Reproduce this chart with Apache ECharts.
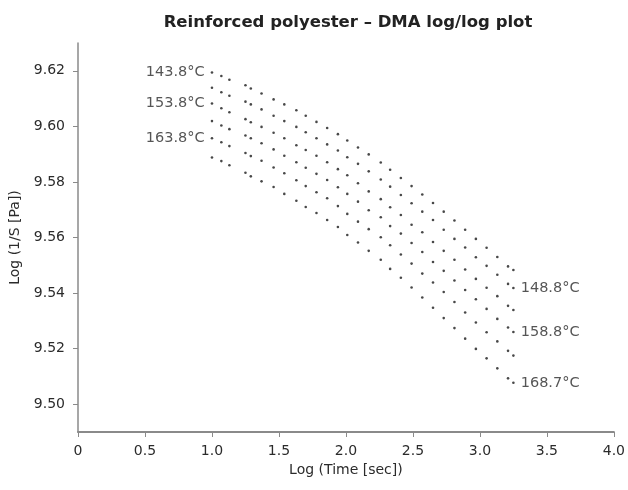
<!DOCTYPE html>
<html>
<head>
<meta charset="utf-8">
<script src="https://cdn.jsdelivr.net/npm/echarts@6/dist/echarts.min.js"></script>
<style>
  html, body { margin: 0; padding: 0; background: #fff; }
  #chart { width: 628px; height: 490px; }
</style>
</head>
<body>
<div id="chart"></div>
<script>
// log10 of time [sec], same for every temperature
const logTime = [1.00, 1.07, 1.13, 1.25, 1.29, 1.37, 1.46, 1.54, 1.63, 1.70,
  1.78, 1.86, 1.94, 2.01, 2.09, 2.17, 2.26, 2.33, 2.41, 2.49,
  2.57, 2.65, 2.73, 2.81, 2.89, 2.97, 3.05, 3.13, 3.21, 3.25];

const temps = ['143.8°C', '148.8°C', '153.8°C', '158.8°C', '163.8°C', '168.7°C'];

// log (1/S [Pa]) per temperature
const s1438 = [9.6194, 9.6181, 9.6168, 9.6148, 9.6136, 9.6118, 9.6097, 9.6079, 9.6058, 9.6038,
  9.6016, 9.5994, 9.5972, 9.5949, 9.5924, 9.5899, 9.5870, 9.5844, 9.5814, 9.5785,
  9.5755, 9.5724, 9.5693, 9.5661, 9.5628, 9.5595, 9.5563, 9.5530, 9.5496, 9.5483];
const s1488 = [9.6139, 9.6123, 9.6110, 9.6089, 9.6079, 9.6061, 9.6038, 9.6019, 9.5998, 9.5979,
  9.5957, 9.5935, 9.5913, 9.5889, 9.5865, 9.5838, 9.5809, 9.5783, 9.5753, 9.5723,
  9.5693, 9.5663, 9.5628, 9.5595, 9.5564, 9.5529, 9.5498, 9.5466, 9.5433, 9.5418];
const s1538 = [9.6082, 9.6065, 9.6051, 9.6026, 9.6015, 9.5998, 9.5977, 9.5957, 9.5932, 9.5915,
  9.5894, 9.5871, 9.5846, 9.5824, 9.5795, 9.5766, 9.5738, 9.5709, 9.5681, 9.5646,
  9.5619, 9.5584, 9.5552, 9.5520, 9.5485, 9.5451, 9.5419, 9.5389, 9.5354, 9.5339];
const s1588 = [9.6019, 9.6003, 9.5990, 9.5967, 9.5957, 9.5939, 9.5917, 9.5894, 9.5871, 9.5851,
  9.5829, 9.5807, 9.5781, 9.5757, 9.5729, 9.5698, 9.5673, 9.5641, 9.5614, 9.5580,
  9.5548, 9.5512, 9.5480, 9.5445, 9.5411, 9.5378, 9.5343, 9.5307, 9.5276, 9.5260];
const s1638 = [9.5957, 9.5943, 9.5929, 9.5904, 9.5893, 9.5876, 9.5852, 9.5831, 9.5806, 9.5785,
  9.5763, 9.5741, 9.5713, 9.5685, 9.5657, 9.5630, 9.5601, 9.5572, 9.5539, 9.5506,
  9.5470, 9.5438, 9.5404, 9.5368, 9.5330, 9.5294, 9.5259, 9.5226, 9.5192, 9.5175];
const s1687 = [9.5888, 9.5875, 9.5860, 9.5833, 9.5820, 9.5802, 9.5782, 9.5757, 9.5732, 9.5710,
  9.5688, 9.5663, 9.5638, 9.5609, 9.5582, 9.5552, 9.5520, 9.5487, 9.5455, 9.5420,
  9.5384, 9.5347, 9.5310, 9.5274, 9.5236, 9.5199, 9.5165, 9.5129, 9.5093, 9.5077];

const xTicks = [0, 0.5, 1.0, 1.5, 2.0, 2.5, 3.0, 3.5, 4.0];
const yTicks = [9.50, 9.52, 9.54, 9.56, 9.58, 9.60, 9.62];

const allSeries = [s1438, s1488, s1538, s1588, s1638, s1687];

const FONT = 'DejaVu Sans';
const TXT = '#2b2b2b';

const myChart = echarts.init(document.getElementById('chart'));

const series = allSeries.map((vals, i) => {
  // odd ones labelled at the left end, even ones at the right end
  const labelAtStart = i % 2 === 0;
  const data = vals.map((v, j) => {
    const item = { value: [logTime[j], v] };
    if (labelAtStart && j === 0) {
      item.label = { show: true, position: 'left', distance: 6, formatter: temps[i] };
    }
    if (!labelAtStart && j === vals.length - 1) {
      item.label = { show: true, position: 'right', distance: 6, formatter: temps[i] };
    }
    return item;
  });
  return {
    name: temps[i],
    type: 'scatter',
    symbol: 'circle',
    symbolSize: 2.6,
    itemStyle: { color: '#1a1a1a' },
    label: { color: TXT, fontFamily: FONT, fontSize: 14.5 },
    data: data,
    silent: true
  };
});

const option = {
  backgroundColor: '#fff',
  animation: false,
  title: {
    text: 'Reinforced polyester – DMA log/log plot',
    left: 343,
    textAlign: 'center',
    top: 9,
    textStyle: { fontFamily: FONT, fontWeight: 'bold', fontSize: 16.5, color: '#222' }
  },
  grid: { left: 76, right: 12, top: 43, bottom: 58, containLabel: false },
  xAxis: {
    type: 'value',
    min: 0,
    max: 4,
    interval: 0.5,
    name: 'Log (Time [sec])',
    nameLocation: 'middle',
    nameGap: 29,
    nameTextStyle: { fontFamily: FONT, fontSize: 14, color: TXT },
    axisLine: { show: true, lineStyle: { color: '#8a8a8a', width: 2 } },
    axisTick: { show: true, length: 5, lineStyle: { color: '#8a8a8a' } },
    axisLabel: {
      fontFamily: FONT, fontSize: 14, color: TXT, margin: 12,
      customValues: xTicks,
      formatter: (v) => (v === 0 ? '0' : v.toFixed(1))
    },
    splitLine: { show: false }
  },
  yAxis: {
    type: 'value',
    min: 9.49,
    max: 9.63,
    name: 'Log (1/S [Pa])',
    nameLocation: 'middle',
    nameGap: 56,
    nameTextStyle: { fontFamily: FONT, fontSize: 14, color: TXT },
    axisLine: { show: true, lineStyle: { color: '#8a8a8a', width: 1.5 } },
    axisTick: { show: true, length: 5, customValues: yTicks, lineStyle: { color: '#8a8a8a' } },
    axisLabel: {
      fontFamily: FONT, fontSize: 14, color: TXT, margin: 13,
      customValues: yTicks,
      formatter: (v) => v.toFixed(2)
    },
    splitLine: { show: false }
  },
  series: series
};

myChart.setOption(option);
</script>
</body>
</html>
